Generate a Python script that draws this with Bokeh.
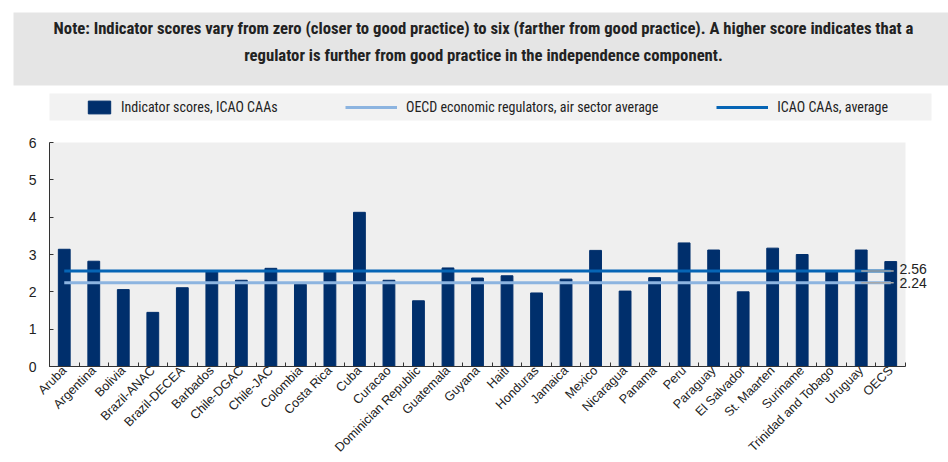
from bokeh.plotting import figure
from bokeh.layouts import column
from bokeh.models import (Range1d, FixedTicker, Legend, LegendItem, BoxAnnotation,
                          Label, LinearAxis)
from bokeh.embed import file_html
from bokeh.resources import INLINE
from bokeh.core.properties import value

categories = ["Aruba", "Argentina", "Bolivia", "Brazil-ANAC", "Brazil-DECEA", "Barbados",
              "Chile-DGAC", "Chile-JAC", "Colombia", "Costa Rica", "Cuba", "Curacao",
              "Dominician Republic", "Guatemala", "Guyana", "Haiti", "Honduras", "Jamaica",
              "Mexico", "Nicaragua", "Panama", "Peru", "Paraguay", "El Salvador",
              "St. Maarten", "Suriname", "Trinidad and Tobago", "Uruguay", "OECS"]
scores = [3.14, 2.82, 2.06, 1.45, 2.11, 2.57, 2.31, 2.63, 2.20, 2.57, 4.13, 2.31,
          1.76, 2.64, 2.37, 2.43, 1.97, 2.34, 3.11, 2.02, 2.38, 3.31, 3.12, 2.00,
          3.17, 3.00, 2.56, 3.12, 2.81]
icao_avg = 2.56
oecd_avg = 2.24
y_ticks = [0, 1, 2, 3, 4, 5, 6]
note_lines = ["Note: Indicator scores vary from zero (closer to good practice) to six (farther from good practice). A higher score indicates that a",
              "regulator is further from good practice in the independence component."]
legend_labels = ["Indicator scores, ICAO CAAs", "OECD economic regulators, air sector average",
                 "ICAO CAAs, average"]

NARROW = "'Liberation Sans Narrow', 'Arial Narrow', 'Roboto Condensed', 'Liberation Sans', sans-serif"
SANS = "'Liberation Sans', Arial, sans-serif"
TXT = "#222222"
BAR = "#002F6C"
C_OECD = "#8CB4E0"
C_ICAO = "#0665B5"

W = 948
HEAD_H = 88

# ---------------- header (note) ----------------
h = figure(width=W, height=HEAD_H, output_backend="svg", toolbar_location=None,
           x_range=Range1d(0, W), y_range=Range1d(HEAD_H, 0), frame_align=False,
           min_border=0, outline_line_color=None, x_axis_type=None, y_axis_type=None,
           background_fill_color="white", border_fill_color="white")
h.xgrid.visible = False
h.ygrid.visible = False
h.quad(left=[13], right=[W], top=[12], bottom=[85], fill_color="#e5e5e5", line_color=None)
h.text(x=[483, 483], y=[28, 55], text=note_lines, text_align="center", text_baseline="middle",
       text_font=value(NARROW), text_font_style="bold", text_font_size="16.7px", text_color=TXT)

# ---------------- main chart ----------------
n = len(categories)
xpos = [i + 0.5 for i in range(n)]
bounds = list(range(n + 1))

LEFT, PLOT_RIGHT, FRAME_RIGHT = 49, 905, 940
PLOT_TOP, FRAME_TOP, BOTTOM = 142, 93, 366
x_end = n * (FRAME_RIGHT - LEFT) / (PLOT_RIGHT - LEFT)
y_end = y_ticks[-1] * (BOTTOM - FRAME_TOP) / (BOTTOM - PLOT_TOP)
MAIN_H = 462 - HEAD_H

p = figure(width=W, height=MAIN_H, output_backend="svg", toolbar_location=None,
           x_range=Range1d(0, x_end), y_range=Range1d(0, y_end), frame_align=False,
           min_border_left=LEFT, min_border_right=W - FRAME_RIGHT,
           min_border_top=FRAME_TOP - HEAD_H, min_border_bottom=462 - BOTTOM,
           background_fill_color="white", border_fill_color="white",
           outline_line_color=None, x_axis_type=None, y_axis_type=None)

p.add_layout(BoxAnnotation(left=0, right=n, bottom=0, top=y_ticks[-1], fill_color="#efefef",
                           fill_alpha=1, line_color=None, level="image"))

xaxis = LinearAxis(ticker=FixedTicker(ticks=xpos, minor_ticks=bounds),
                   major_label_overrides={x: c for x, c in zip(xpos, categories)},
                   bounds=(0, n))
xaxis.major_label_orientation = 0.785398
xaxis.major_tick_line_color = None
xaxis.major_tick_in = 0
xaxis.major_tick_out = 0
xaxis.minor_tick_in = 4
xaxis.minor_tick_out = 0
xaxis.minor_tick_line_color = "#333333"
xaxis.axis_line_color = "#333333"
xaxis.major_label_text_font = SANS
xaxis.major_label_text_font_size = "12.6px"
xaxis.major_label_text_color = TXT
xaxis.major_label_standoff = 2
p.add_layout(xaxis, "below")

yaxis = LinearAxis(ticker=FixedTicker(ticks=y_ticks), bounds=(0, y_ticks[-1]))
yaxis.major_tick_in = 4
yaxis.major_tick_out = 0
yaxis.minor_tick_line_color = None
yaxis.major_tick_line_color = "#333333"
yaxis.axis_line_color = "#333333"
yaxis.major_label_text_font = SANS
yaxis.major_label_text_font_size = "14px"
yaxis.major_label_text_color = TXT
yaxis.major_label_standoff = 13
p.add_layout(yaxis, "left")

p.xgrid.ticker = FixedTicker(ticks=bounds)
p.ygrid.ticker = FixedTicker(ticks=y_ticks)
for g in (p.xgrid, p.ygrid):
    g.grid_line_color = "white"
    g.grid_line_width = 1.5

bars = p.vbar(x=xpos, top=scores, width=0.4, fill_color=BAR, line_color=BAR)
l_oecd = p.line(x=[xpos[0], xpos[-1]], y=[oecd_avg, oecd_avg], line_color=C_OECD, line_width=3)
l_icao = p.line(x=[xpos[0], xpos[-1]], y=[icao_avg, icao_avg], line_color=C_ICAO, line_width=3)

# grey leader lines from the average lines towards their value labels
avgs = [icao_avg, oecd_avg]
p.segment(x0=[n - 1.5] * 2, x1=[n - 0.4] * 2, y0=avgs, y1=avgs,
          line_color="#a8a8a8", line_width=1.5)

for v, off in [(icao_avg, 1.5), (oecd_avg, 0)]:
    p.add_layout(Label(x=n, y=v, x_offset=-6, y_offset=off, text=f"{v:.2f}",
                       text_baseline="middle", text_font=SANS,
                       text_font_size="14px", text_color=TXT))

# legend strip (canvas pixels of the main figure)
p.add_layout(BoxAnnotation(left=47, right=931, top=92 - HEAD_H, bottom=120 - HEAD_H,
                           left_units="canvas", right_units="canvas",
                           top_units="canvas", bottom_units="canvas",
                           fill_color="#f2f2f2", fill_alpha=1, line_color=None,
                           level="annotation"))

leg1 = Legend(items=[LegendItem(label=legend_labels[0], renderers=[bars])],
              location=(36, 251), orientation="horizontal", glyph_width=28, glyph_height=16,
              label_standoff=8, padding=0, margin=0, border_line_color=None,
              background_fill_alpha=0, label_text_font=NARROW, label_text_font_size="14px",
              label_text_color=TXT)
leg2 = Legend(items=[LegendItem(label=legend_labels[1], renderers=[l_oecd]),
                     LegendItem(label=legend_labels[2], renderers=[l_icao])],
              location=(296, 251), orientation="horizontal", glyph_width=52, glyph_height=16,
              label_standoff=9, spacing=58, padding=0, margin=0, border_line_color=None,
              background_fill_alpha=0, label_text_font=NARROW, label_text_font_size="14px",
              label_text_color=TXT)
p.add_layout(leg1, "center")
p.add_layout(leg2, "center")

layout = column(h, p, spacing=0)
open("out.html", "w").write(file_html(layout, INLINE))
